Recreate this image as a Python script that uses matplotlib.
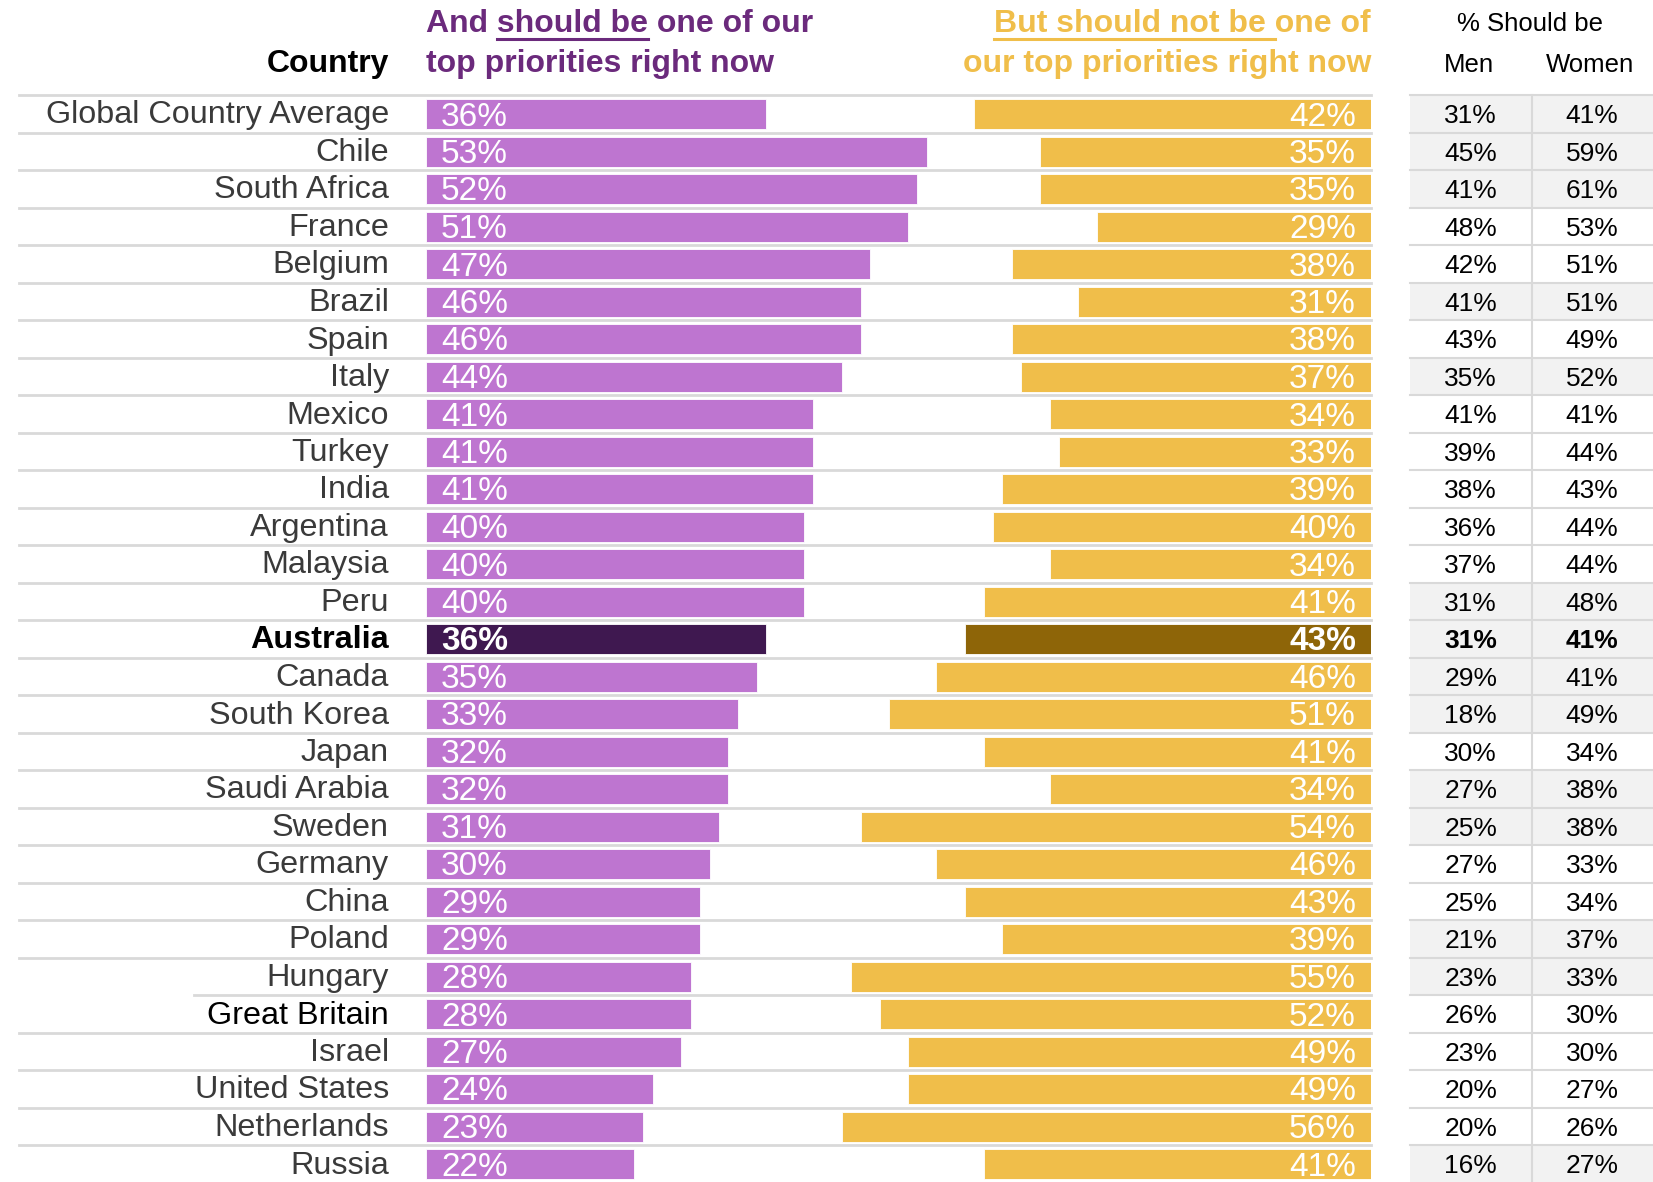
import matplotlib
matplotlib.use("Agg")
import matplotlib.pyplot as plt
from matplotlib.lines import Line2D

countries = ["Global Country Average", "Chile", "South Africa", "France", "Belgium",
             "Brazil", "Spain", "Italy", "Mexico", "Turkey", "India", "Argentina",
             "Malaysia", "Peru", "Australia", "Canada", "South Korea", "Japan",
             "Saudi Arabia", "Sweden", "Germany", "China", "Poland", "Hungary",
             "Great Britain", "Israel", "United States", "Netherlands", "Russia"]
should_be = [36, 53, 52, 51, 47, 46, 46, 44, 41, 41, 41, 40, 40, 40, 36, 35, 33, 32,
             32, 31, 30, 29, 29, 28, 28, 27, 24, 23, 22]
should_not = [42, 35, 35, 29, 38, 31, 38, 37, 34, 33, 39, 40, 34, 41, 43, 46, 51, 41,
              34, 54, 46, 43, 39, 55, 52, 49, 49, 56, 41]
men = [31, 45, 41, 48, 42, 41, 43, 35, 41, 39, 38, 36, 37, 31, 31, 29, 18, 30, 27,
       25, 27, 25, 21, 23, 26, 23, 20, 20, 16]
women = [41, 59, 61, 53, 51, 51, 49, 52, 41, 44, 43, 44, 44, 48, 41, 41, 49, 34, 38,
         38, 33, 34, 37, 33, 30, 30, 27, 26, 27]
shaded = [1, 1, 1, 0, 0, 1, 0, 1, 0, 0, 0, 0, 0, 1, 1, 1, 1, 0, 1, 1, 0, 0, 1, 1, 0,
          0, 0, 0, 1]
highlight = "Australia"

W, H = 1653, 1182
PURPLE, PURPLE_DK = "#BE75D0", "#3F1850"
GOLD, GOLD_DK = "#F0BE4A", "#8E6508"
HEAD_PURPLE = "#6B2A7C"
LINE = "#D9D9D9"
FONT = ["Liberation Sans", "DejaVu Sans"]
plt.rcParams["font.family"] = FONT

fig = plt.figure(figsize=(W / 100, H / 100), dpi=100)
n = len(countries)
pitch = 37.5
top = 95.25


def fx(px):
    return px / W


def fy(py):
    return 1 - py / H


# bar axes: x 0..100 maps from purple start to gold end
x0, x1 = 426, 1371
ax = fig.add_axes([fx(x0), fy(top + n * pitch), fx(x1) - fx(x0), n * pitch / H])
ax.set_xlim(0, 100)
ax.set_ylim(n - 0.5, -0.5)
ax.axis("off")
unit = (x1 - x0) / 100.0

rows = list(range(n))
pc = [PURPLE_DK if c == highlight else PURPLE for c in countries]
gc = [GOLD_DK if c == highlight else GOLD for c in countries]
ax.barh(rows, should_be, left=0, height=0.8, color=pc, edgecolor="white", linewidth=0.6)
ax.barh(rows, should_not, left=[100 - v for v in should_not], height=0.8, color=gc,
        edgecolor="white", linewidth=0.6)

line_start = (19 - x0) / unit
for i, c in enumerate(countries):
    xs = line_start
    if c == "Great Britain":
        xs = (194 - x0) / unit
    ax.plot([xs, 100], [i - 0.5, i - 0.5], color=LINE, lw=2, clip_on=False, zorder=0)
    bold = c == highlight
    col = "black" if c in (highlight, "Great Britain") else "#3A3A3A"
    ax.text((389 - x0) / unit, i + 0.04, c, ha="right", va="center", fontsize=23.3,
            color=col, fontweight="bold" if bold else "normal", clip_on=False)
    ax.text(1.6, i + 0.08, f"{should_be[i]}%", ha="left", va="center", fontsize=24,
            color="white", fontweight="bold" if bold else "normal")
    ax.text(98.4, i + 0.08, f"{should_not[i]}%", ha="right", va="center", fontsize=24,
            color="white", fontweight="bold" if bold else "normal")

# table axes
tx0 = 1410
tab = fig.add_axes([fx(tx0), fy(top + n * pitch), 1 - fx(tx0), n * pitch / H])
tab.set_xlim(0, 2)
tab.set_ylim(n - 0.5, -0.5)
tab.axis("off")
for i in range(n):
    if shaded[i]:
        tab.barh(i, 2, left=0, height=1, color="#F2F2F2", zorder=0)
    tab.plot([0, 2], [i - 0.5, i - 0.5], color=LINE, lw=1.5, zorder=1, clip_on=False)
    bold = countries[i] == highlight
    fw = "bold" if bold else "normal"
    tab.text(0.5, i + 0.06, f"{men[i]}%", ha="center", va="center", fontsize=19,
             color="black", fontweight=fw)
    tab.text(1.5, i + 0.06, f"{women[i]}%", ha="center", va="center", fontsize=19,
             color="black", fontweight=fw)
tab.plot([1, 1], [-0.5, n - 0.5], color=LINE, lw=1.5, zorder=1, clip_on=False)

# headers
hs = 23
fig.text(fx(1530), fy(31), "% Should be", ha="center", va="baseline", fontsize=18.5)
fig.text(fx(1469), fy(72), "Men", ha="center", va="baseline", fontsize=18.5)
fig.text(fx(1590), fy(72), "Women", ha="center", va="baseline", fontsize=18.5)
fig.text(fx(389), fy(72), "Country", ha="right", va="baseline", fontsize=hs,
         fontweight="bold", color="black")

p1 = "And should be one of our"
g1 = "But should not be one of"
fig.text(fx(x0), fy(32), p1, ha="left", va="baseline", fontsize=hs,
         fontweight="bold", color=HEAD_PURPLE)
fig.text(fx(x0), fy(72), "top priorities right now", ha="left", va="baseline",
         fontsize=hs, fontweight="bold", color=HEAD_PURPLE)
fig.text(fx(x1), fy(32), g1, ha="right", va="baseline", fontsize=hs,
         fontweight="bold", color=GOLD)
fig.text(fx(x1), fy(72), "our top priorities right now", ha="right", va="baseline",
         fontsize=hs, fontweight="bold", color=GOLD)

fig.canvas.draw()
r = fig.canvas.get_renderer()


def text_w(s):
    t = fig.text(0, 0, s, fontsize=hs, fontweight="bold")
    w = t.get_window_extent(renderer=r).width
    t.remove()
    return w


# underline "should be"
u0 = x0 + text_w("And should be") - text_w("should be")
u1 = x0 + text_w("And should be")
fig.add_artist(Line2D([fx(u0), fx(u1)], [fy(38.5), fy(38.5)], color=HEAD_PURPLE, lw=2.2))
# underline "But should not be "
g_start = x1 - text_w(g1)
g_end = g_start + text_w("But should not be") + text_w("b b") - 2 * text_w("b")
fig.add_artist(Line2D([fx(g_start), fx(g_end)], [fy(38.5), fy(38.5)], color=GOLD, lw=2.2))

fig.savefig("out.png", dpi=100)
